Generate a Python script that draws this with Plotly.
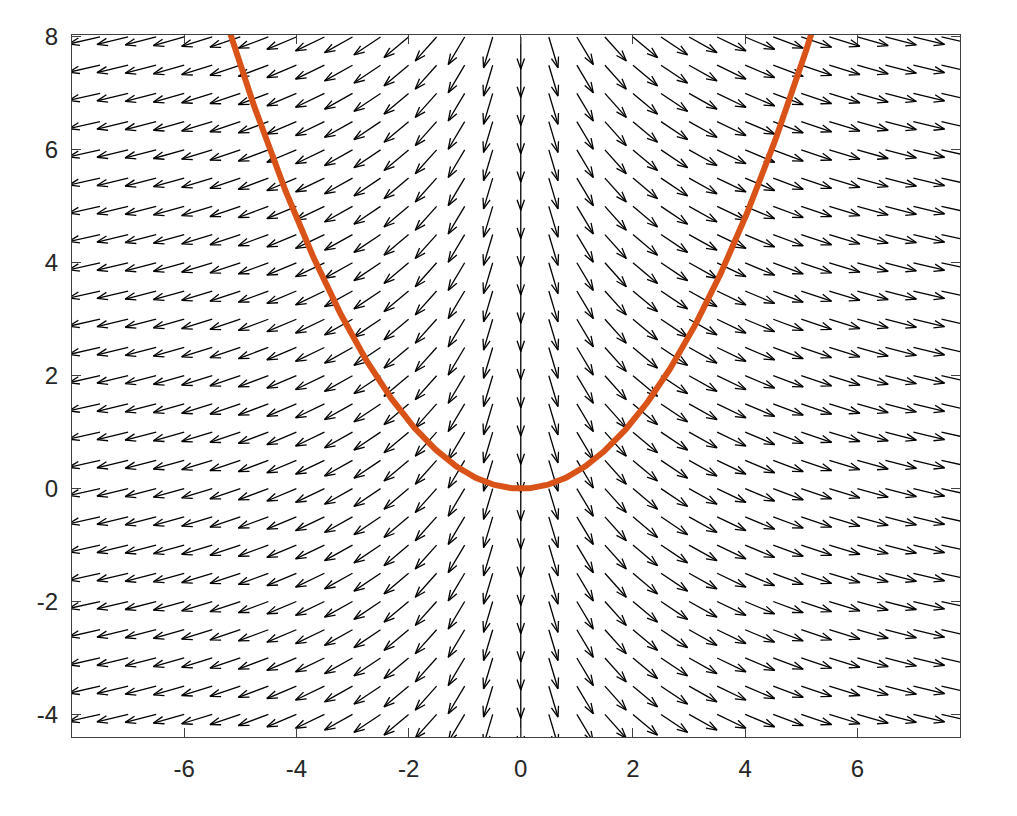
import numpy as np
import plotly.graph_objects as go

# Quiver grid (tail positions)
grid_x = [-8.0, -7.5, -7.0, -6.5, -6.0, -5.5, -5.0, -4.5, -4.0, -3.5, -3.0, -2.5, -2.0, -1.5, -1.0, -0.5,
          0.0, 0.5, 1.0, 1.5, 2.0, 2.5, 3.0, 3.5, 4.0, 4.5, 5.0, 5.5, 6.0, 6.5, 7.0, 7.5, 8.0]
grid_y = [-4.0, -3.5, -3.0, -2.5, -2.0, -1.5, -1.0, -0.5, 0.0, 0.5, 1.0, 1.5, 2.0, 2.5, 3.0, 3.5,
          4.0, 4.5, 5.0, 5.5, 6.0, 6.5, 7.0, 7.5, 8.0]
# Field: u = field_u_coef * x, v = field_v (normal to the parabola y = parab_coef * x^2), normalised
field_u_coef = 0.6
field_v = -1.0
arrow_len = 0.57
head_alpha = 0.33
head_beta = 0.35

# Parabola
parab_coef = 0.3
parab_x_range = [-5.3, 5.3]

x_ticks = [-6, -4, -2, 0, 2, 4, 6]
x_ticktext = ["-6", "-4", "-2", "0", "2", "4", "6"]
y_ticks = [-4, -2, 0, 2, 4, 6, 8]
y_ticktext = ["-4", "-2", "0", "2", "4", "6", "8"]
x_range = [-8.0, 7.83]
y_range = [-4.40, 8.035]

xs, ys = [], []
for yy in grid_y:
    for xx in grid_x:
        u = field_u_coef * xx
        v = field_v
        n = np.hypot(u, v)
        u, v = u / n * arrow_len, v / n * arrow_len
        tx, ty = xx + u, yy + v
        xs += [xx, tx, None]
        ys += [yy, ty, None]
        b1x = tx - head_alpha * (u + head_beta * v)
        b1y = ty - head_alpha * (v - head_beta * u)
        b2x = tx - head_alpha * (u - head_beta * v)
        b2y = ty - head_alpha * (v + head_beta * u)
        xs += [b1x, tx, b2x, None]
        ys += [b1y, ty, b2y, None]

px = np.linspace(parab_x_range[0], parab_x_range[1], 400)
py = parab_coef * px ** 2

fig = go.Figure()
fig.add_trace(go.Scatter(x=xs, y=ys, mode="lines", line=dict(color="black", width=1.3),
                         hoverinfo="skip", showlegend=False))
fig.add_trace(go.Scatter(x=px, y=py, mode="lines", line=dict(color="#D95319", width=6),
                         showlegend=False))

axis_common = dict(showgrid=False, zeroline=False, showline=True, linecolor="#404040", linewidth=1,
                   mirror="ticks", ticks="inside", ticklen=9, tickwidth=1, tickcolor="#404040",
                   automargin=False,
                   tickfont=dict(family="Liberation Sans, Arial, sans-serif", size=24, color="#262626"))
fig.update_xaxes(range=x_range, tickvals=x_ticks, ticktext=x_ticktext, ticklabelstandoff=10, **axis_common)
fig.update_yaxes(range=y_range, tickvals=y_ticks, ticktext=y_ticktext, ticklabelstandoff=8, **axis_common)
fig.update_layout(width=1009, height=808, margin=dict(l=64, r=57, t=27, b=79),
                  plot_bgcolor="white", paper_bgcolor="white")
fig.write_html("out.html")
